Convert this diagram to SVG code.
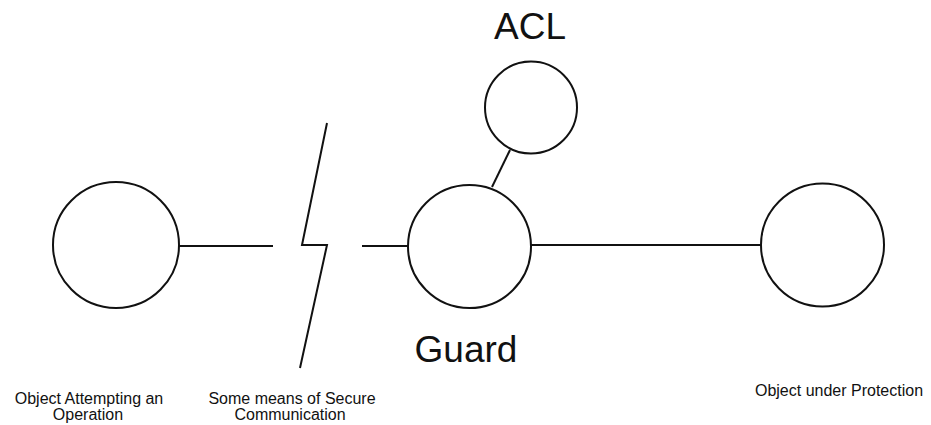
<svg xmlns="http://www.w3.org/2000/svg" width="931" height="425" viewBox="0 0 931 425">
  <style>
    .node { fill: #ffffff; stroke: #111111; stroke-width: 2; }
    .link { fill: none; stroke: #111111; stroke-width: 2; stroke-linejoin: miter; }
    .big { font-family: "Liberation Sans", Arial, sans-serif; font-size: 37px; fill: #111111; text-anchor: middle; }
    .small { font-family: "Liberation Sans", Arial, sans-serif; font-size: 16px; fill: #111111; text-anchor: middle; }
  </style>
  <rect width="931" height="425" fill="#ffffff"/>

  <!-- connectors -->
  <g id="connectors">
    <line class="link" x1="179" y1="246" x2="273" y2="246"/>
    <line class="link" x1="362" y1="246" x2="408" y2="246"/>
    <line class="link" x1="531" y1="245" x2="761" y2="245"/>
    <line class="link" x1="510" y1="150" x2="492" y2="187"/>
  </g>

  <!-- lightning-bolt break: the secure channel -->
  <g id="secure-channel">
    <polyline class="link" points="327,123 302,245 327,245 300,368"/>
    <text class="small" x="292" y="404">Some means of Secure</text>
    <text class="small" x="290" y="420">Communication</text>
  </g>

  <g id="requester">
    <circle class="node" cx="116" cy="245" r="63"/>
    <text class="small" x="89" y="404">Object Attempting an</text>
    <text class="small" x="88" y="420">Operation</text>
  </g>

  <g id="guard">
    <circle class="node" cx="469.5" cy="246.5" r="61.5"/>
    <text class="big" x="466" y="362">Guard</text>
  </g>

  <g id="acl">
    <circle class="node" cx="531" cy="107.5" r="46"/>
    <text class="big" x="530" y="39">ACL</text>
  </g>

  <g id="protected-object">
    <circle class="node" cx="822.5" cy="245" r="61.5"/>
    <text class="small" x="839" y="396">Object under Protection</text>
  </g>
</svg>
